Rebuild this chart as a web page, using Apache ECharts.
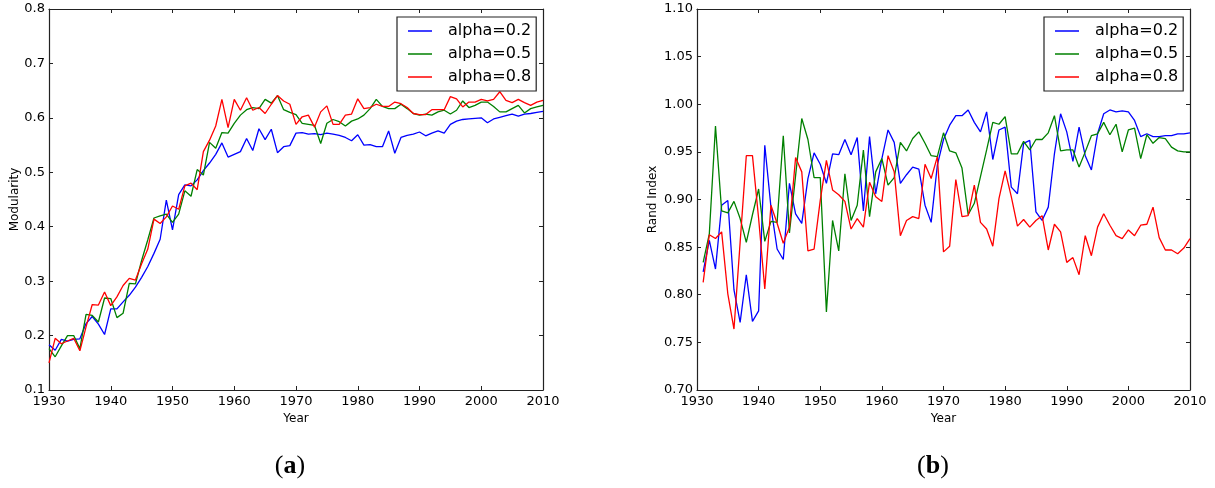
<!DOCTYPE html>
<html>
<head>
<meta charset="utf-8">
<title>Modularity / Rand Index</title>
<script src="https://cdn.jsdelivr.net/npm/echarts@6/dist/echarts.min.js"></script>
<style>
    html, body { margin: 0; padding: 0; background: #fff; }
    #main { width: 1215px; height: 488px; }
</style>
</head>
<body>
<div id="main"></div>
<script>
// series names (legend)
const names = ['alpha=0.2', 'alpha=0.5', 'alpha=0.8'];
const colors = ['#0000ff', '#008000', '#ff0000'];

// (a) Modularity, years 1930..2010
const modStart = 1930;
const modBlue = [
    0.183, 0.173, 0.193, 0.190, 0.193, 0.194, 0.222, 0.235, 0.221, 0.202,
    0.249, 0.249, 0.262, 0.274, 0.289, 0.307, 0.327, 0.351, 0.377, 0.449,
    0.394, 0.459, 0.477, 0.475, 0.486, 0.503, 0.517, 0.533, 0.554, 0.528,
    0.533, 0.538, 0.562, 0.540, 0.580, 0.560, 0.579, 0.536, 0.547, 0.549,
    0.572, 0.573, 0.570, 0.571, 0.569, 0.572, 0.570, 0.568, 0.564, 0.558,
    0.569, 0.550, 0.551, 0.547, 0.547, 0.576, 0.535, 0.564, 0.568, 0.570,
    0.574, 0.567, 0.572, 0.576, 0.572, 0.588, 0.594, 0.597, 0.598, 0.599,
    0.600, 0.591, 0.598, 0.601, 0.604, 0.607, 0.603, 0.607, 0.608, 0.610,
    0.612
];
const modGreen = [
    0.176, 0.161, 0.181, 0.200, 0.200, 0.176, 0.239, 0.237, 0.225, 0.269,
    0.268, 0.233, 0.241, 0.296, 0.295, 0.338, 0.376, 0.416, 0.420, 0.423,
    0.408, 0.423, 0.466, 0.456, 0.505, 0.495, 0.555, 0.544, 0.573, 0.572,
    0.590, 0.605, 0.615, 0.619, 0.617, 0.634, 0.627, 0.641, 0.615, 0.610,
    0.606, 0.590, 0.588, 0.586, 0.553, 0.590, 0.597, 0.593, 0.585, 0.594,
    0.598, 0.605, 0.617, 0.634, 0.621, 0.617, 0.617, 0.625, 0.617, 0.608,
    0.605, 0.607, 0.605, 0.611, 0.614, 0.607, 0.614, 0.631, 0.619, 0.623,
    0.629, 0.629, 0.621, 0.611, 0.611, 0.617, 0.623, 0.609, 0.617, 0.620,
    0.623
];
const modRed = [
    0.150, 0.195, 0.185, 0.190, 0.195, 0.172, 0.216, 0.257, 0.256, 0.280,
    0.255, 0.271, 0.292, 0.305, 0.302, 0.332, 0.359, 0.414, 0.406, 0.418,
    0.438, 0.432, 0.475, 0.480, 0.468, 0.538, 0.559, 0.585, 0.634, 0.582,
    0.634, 0.614, 0.637, 0.614, 0.619, 0.608, 0.625, 0.641, 0.631, 0.625,
    0.588, 0.602, 0.605, 0.583, 0.611, 0.622, 0.588, 0.588, 0.605, 0.607,
    0.635, 0.617, 0.619, 0.625, 0.621, 0.621, 0.629, 0.626, 0.619, 0.608,
    0.606, 0.606, 0.615, 0.615, 0.615, 0.639, 0.635, 0.620, 0.629, 0.629,
    0.634, 0.631, 0.634, 0.648, 0.632, 0.628, 0.634, 0.628, 0.623, 0.629,
    0.632
];

// (b) Rand Index, years 1931..2010
const randStart = 1931;
const randBlue = [
    0.824, 0.857, 0.827, 0.894, 0.899, 0.805, 0.771, 0.821, 0.772, 0.783,
    0.957, 0.892, 0.848, 0.837, 0.917, 0.885, 0.875, 0.922, 0.949, 0.937,
    0.917, 0.948, 0.947, 0.963, 0.947, 0.965, 0.888, 0.966, 0.906, 0.943,
    0.973, 0.960, 0.917, 0.926, 0.934, 0.932, 0.894, 0.876, 0.936, 0.963,
    0.978, 0.988, 0.988, 0.994, 0.981, 0.971, 0.992, 0.942, 0.973, 0.976,
    0.913, 0.906, 0.959, 0.962, 0.887, 0.878, 0.892, 0.948, 0.990, 0.971,
    0.940, 0.976, 0.946, 0.931, 0.969, 0.990, 0.994, 0.992, 0.993, 0.992,
    0.983, 0.966, 0.969, 0.966, 0.966, 0.967, 0.967, 0.969, 0.969, 0.970
];
const randGreen = [
    0.834, 0.864, 0.977, 0.888, 0.886, 0.898, 0.880, 0.855, 0.884, 0.911,
    0.856, 0.877, 0.876, 0.967, 0.865, 0.925, 0.985, 0.963, 0.923, 0.923,
    0.782, 0.878, 0.846, 0.927, 0.878, 0.894, 0.952, 0.882, 0.929, 0.943,
    0.915, 0.923, 0.960, 0.951, 0.964, 0.971, 0.959, 0.946, 0.945, 0.970,
    0.951, 0.949, 0.933, 0.884, 0.896, 0.924, 0.952, 0.981, 0.979, 0.987,
    0.948, 0.948, 0.961, 0.952, 0.963, 0.963, 0.970, 0.988, 0.951, 0.952,
    0.952, 0.934, 0.950, 0.967, 0.969, 0.981, 0.968, 0.979, 0.950, 0.973,
    0.975, 0.943, 0.968, 0.959, 0.965, 0.964, 0.955, 0.951, 0.950, 0.950
];
const randRed = [
    0.813, 0.863, 0.859, 0.866, 0.801, 0.764, 0.855, 0.946, 0.946, 0.880,
    0.806, 0.894, 0.875, 0.854, 0.871, 0.944, 0.929, 0.846, 0.848, 0.899,
    0.941, 0.910, 0.905, 0.898, 0.869, 0.880, 0.871, 0.918, 0.903, 0.898,
    0.946, 0.929, 0.862, 0.878, 0.882, 0.880, 0.937, 0.922, 0.945, 0.845,
    0.851, 0.921, 0.882, 0.883, 0.915, 0.876, 0.869, 0.851, 0.901, 0.930,
    0.903, 0.872, 0.879, 0.871, 0.878, 0.883, 0.847, 0.874, 0.866, 0.834,
    0.839, 0.821, 0.862, 0.841, 0.871, 0.885, 0.873, 0.862, 0.859, 0.868,
    0.862, 0.873, 0.874, 0.892, 0.860, 0.847, 0.847, 0.843, 0.849, 0.859
];

const font = 'DejaVu Sans';

function pairs(start, vals) {
    return vals.map((v, i) => [start + i, v]);
}

function xAxes(grid) {
    const base = {
        gridIndex: grid,
        type: 'value',
        min: 1930,
        max: 2010,
        interval: 10,
        splitLine: { show: false },
        axisLine: { lineStyle: { color: '#222', width: 1.2 } },
        axisTick: { inside: true, length: 4, lineStyle: { color: '#222' } },
    };
    return [{
        ...base,
        position: 'bottom',
        name: 'Year',
        nameLocation: 'middle',
        nameGap: 21,
        nameTextStyle: { fontFamily: font, fontSize: 12, color: '#000' },
        axisLabel: {
            fontFamily: font, fontSize: 13, color: '#000', margin: 5,
            formatter(val) { return String(val); }
        },
    }, {
        ...base,
        position: 'top',
        axisLabel: { show: false },
    }];
}

function yAxes(grid, min, max, step, digits, title, gap) {
    const base = {
        gridIndex: grid,
        type: 'value',
        min: min,
        max: max,
        interval: step,
        splitLine: { show: false },
        axisLine: { show: true, lineStyle: { color: '#222', width: 1.2 } },
        axisTick: { show: true, inside: true, length: 4, lineStyle: { color: '#222' } },
    };
    return [{
        ...base,
        position: 'left',
        name: title,
        nameLocation: 'middle',
        nameGap: gap,
        nameTextStyle: { fontFamily: font, fontSize: 12, color: '#000' },
        axisLabel: {
            fontFamily: font, fontSize: 13, color: '#000', margin: 4,
            formatter(val) { return val.toFixed(digits); }
        },
    }, {
        ...base,
        position: 'right',
        axisLabel: { show: false },
    }];
}

function legend(left) {
    return {
        left: left,
        top: 17,
        orient: 'vertical',
        data: names,
        icon: 'rect',
        itemWidth: 24,
        itemHeight: 1.5,
        itemGap: 5,
        padding: [5, 5, 5, 11],
        borderColor: '#222',
        borderWidth: 1.2,
        borderRadius: 0,
        selectedMode: false,
        textStyle: {
            fontFamily: font, fontSize: 16, color: '#000',
            lineHeight: 18, padding: [0, 0, 0, 11]
        },
    };
}

function line(i, grid, data) {
    return {
        name: names[i],
        type: 'line',
        xAxisIndex: grid * 2,
        yAxisIndex: grid * 2,
        data: data,
        symbol: 'none',
        color: colors[i],
        lineStyle: { color: colors[i], width: 1.3 },
    };
}

function caption(x, letter) {
    return {
        type: 'text',
        x: x,
        y: 466,
        style: {
            text: '{p|(}{b|' + letter + '}{p|)}',
            align: 'center',
            verticalAlign: 'middle',
            rich: {
                p: { fontFamily: 'Liberation Serif', fontSize: 26, fill: '#000' },
                b: { fontFamily: 'Liberation Serif', fontWeight: 'bold', fontSize: 26, fill: '#000' },
            }
        }
    };
}

let myChart = echarts.init(document.getElementById('main'));
myChart.setOption({
    animation: false,
    backgroundColor: '#fff',
    grid: [
        { left: 49, top: 9, width: 494, height: 381 },
        { left: 697, top: 9, width: 493, height: 381 },
    ],
    xAxis: [...xAxes(0), ...xAxes(1)],
    yAxis: [
        ...yAxes(0, 0.1, 0.8, 0.1, 1, 'Modularity', 28),
        ...yAxes(1, 0.7, 1.1, 0.05, 2, 'Rand Index', 38),
    ],
    legend: [legend(397), legend(1044)],
    graphic: [caption(290, 'a'), caption(933, 'b')],
    series: [
        line(0, 0, pairs(modStart, modBlue)),
        line(1, 0, pairs(modStart, modGreen)),
        line(2, 0, pairs(modStart, modRed)),
        line(0, 1, pairs(randStart, randBlue)),
        line(1, 1, pairs(randStart, randGreen)),
        line(2, 1, pairs(randStart, randRed)),
    ],
});
</script>
</body>
</html>
